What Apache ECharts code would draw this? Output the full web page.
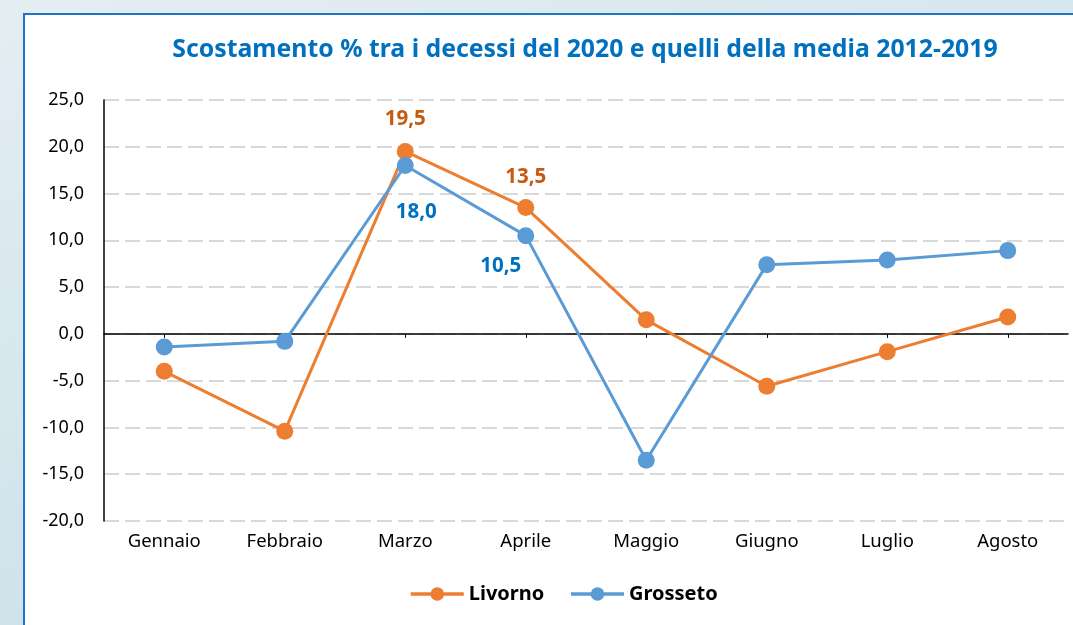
<!DOCTYPE html>
<html>
<head>
<meta charset="utf-8">
<script src="https://cdn.jsdelivr.net/npm/echarts@6/dist/echarts.min.js"></script>
<style>
  html,body{margin:0;padding:0;width:1073px;height:625px;overflow:hidden;
    background:linear-gradient(160deg,#e4eef3 0%,#d3e5ec 50%,#c3dce5 100%);}
  #mainChart{width:1073px;height:625px;}
</style>
</head>
<body>
<div id="mainChart"></div>
<script>
// dati
var categories = ['Gennaio','Febbraio','Marzo','Aprile','Maggio','Giugno','Luglio','Agosto'];
var livorno = [-4.0, -10.4, 19.5, 13.5, 1.5, -5.6, -1.9, 1.8];
var grosseto = [-1.4, -0.8, 18.0, 10.5, -13.5, 7.4, 7.9, 8.9];
var yTicks = [-20, -15, -10, -5, 0, 5, 10, 15, 20, 25];

var fontFam = 'Noto Sans';

function fmt(v){ return v.toFixed(1).replace('.', ','); }

// etichette solo su Marzo e Aprile
function buildData(values, labels){
  return values.map(function(v, i){
    var item = { value: v };
    if (labels[i]) item.label = labels[i];
    return item;
  });
}

var livLabels = {
  2: { show: true, position: 'top', distance: 13 },
  3: { show: true, position: 'top', distance: 11 }
};
var groLabels = {
  2: { show: true, position: 'bottom', distance: 28, offset: [11, 0] },
  3: { show: true, position: 'bottom', distance: 12, offset: [-25, 0] }
};

var mapChart = echarts.init(document.getElementById('mainChart'));
var option = {
  animation: false,
  textStyle: { fontFamily: fontFam },
  graphic: [{
    type: 'rect',
    left: 23, top: 13,
    shape: { width: 1100, height: 700 },
    style: { fill: '#fff', stroke: '#1f74c4', lineWidth: 2 },
    z: -10
  }],
  title: {
    text: 'Scostamento % tra i decessi del 2020 e quelli della media 2012-2019',
    left: 580, top: 32, textAlign: 'center',
    textStyle: { color: '#0070C0', fontSize: 24.8, fontWeight: 'bold', fontFamily: fontFam }
  },
  legend: {
    bottom: 21, left: 409, padding: 0,
    itemWidth: 53, itemHeight: 17, itemGap: 25,
    lineStyle: { width: 3.5 },
    textStyle: { color: '#000', fontSize: 20, fontWeight: 'bold', fontFamily: fontFam },
    data: ['Livorno', 'Grosseto']
  },
  grid: { left: 104, right: 5, top: 100, bottom: 104 },
  xAxis: [{
    type: 'category',
    data: categories,
    boundaryGap: true,
    axisLine: { show: false, onZero: false },
    axisTick: { show: false },
    axisLabel: { color: '#000', fontSize: 18.5, margin: 11, fontFamily: fontFam }
  }, {
    type: 'category',
    data: categories,
    boundaryGap: true,
    position: 'bottom',
    axisLine: { show: true, onZero: true, lineStyle: { color: '#000', width: 1.5 } },
    axisTick: { show: true, alignWithLabel: true, length: 4, lineStyle: { color: '#000' } },
    axisLabel: { show: false }
  }],
  yAxis: {
    type: 'value',
    min: yTicks[0], max: yTicks[yTicks.length - 1], interval: 5,
    axisLine: { show: true, lineStyle: { color: '#000', width: 1.5 } },
    axisTick: { show: false },
    axisLabel: { color: '#000', fontSize: 18, margin: 20, fontFamily: fontFam, formatter: fmt },
    splitLine: { show: true, lineStyle: { color: '#d9d9d9', width: 2, type: [15, 6] } }
  },
  series: [{
    name: 'Livorno',
    type: 'line',
    xAxisIndex: 0,
    data: buildData(livorno, livLabels),
    symbol: 'circle', symbolSize: 17,
    lineStyle: { color: '#ED7D31', width: 3 },
    itemStyle: { color: '#ED7D31' },
    label: { show: false, color: '#C55A11', fontSize: 20.5, fontWeight: 'bold', fontFamily: fontFam, formatter: function(p){ return fmt(p.value); } },
    z: 3
  }, {
    name: 'Grosseto',
    type: 'line',
    xAxisIndex: 0,
    data: buildData(grosseto, groLabels),
    symbol: 'circle', symbolSize: 17,
    lineStyle: { color: '#5B9BD5', width: 3 },
    itemStyle: { color: '#5B9BD5' },
    label: { show: false, color: '#0070C0', fontSize: 20.5, fontWeight: 'bold', fontFamily: fontFam, formatter: function(p){ return fmt(p.value); } },
    z: 4
  }]
};
mapChart.setOption(option);
</script>
</body>
</html>
